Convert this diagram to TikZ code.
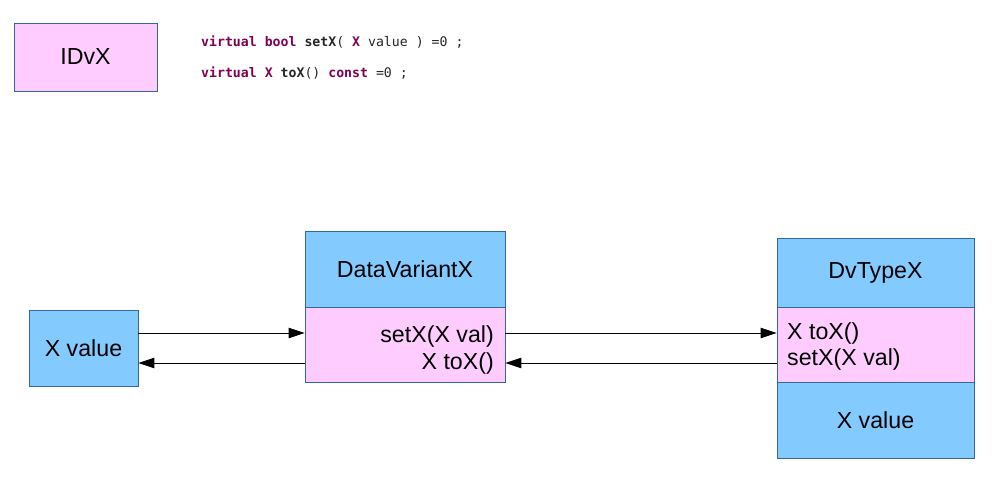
\documentclass[tikz,border=0pt]{standalone}
\usepackage{fontspec}
\setmainfont{Liberation Sans}
\newfontfamily\codefont{DejaVu Sans Mono}
\usetikzlibrary{arrows.meta,calc}
\definecolor{boxblue}{HTML}{83CAFF}
\definecolor{boxpink}{HTML}{FFCCFF}
\definecolor{edge}{HTML}{3465A4}
\definecolor{kw}{HTML}{7F0055}
\tikzset{
  box/.style={draw=edge, line width=0.9pt, inner sep=0pt, minimum width=#1},
  bluebox/.style={box=#1, fill=boxblue},
  pinkbox/.style={box=#1, fill=boxpink},
  lbl/.style={font=\fontsize{23.2}{28}\selectfont, inner sep=0pt, text=black},
  code/.style={font=\codefont\fontsize{13.2}{15}\selectfont, inner sep=0pt, anchor=base west, text=black!85},
  arr/.style={line width=1pt, -{Triangle[length=16pt,width=10.5pt]}}
}
\newcommand{\kwd}[1]{\textcolor{kw}{\textbf{#1}}}
\begin{document}
\begin{tikzpicture}[x=1pt,y=-1pt]
\useasboundingbox[fill=white] (0,0) rectangle (1001,485);
% IDvX
\node[pinkbox=143pt, minimum height=68pt] (idvx) at (85.5,57) {};
\node[lbl] (idvxt) at (idvx.center) {IDvX};
% code
\node[code] (c1) at (201,46.5) {\kwd{virtual} \kwd{bool} \textbf{setX}( \textcolor{kw}{\textbf{X}} value ) =0 ;};
\node[code] (c2) at (201,77.5) {\kwd{virtual} \textcolor{kw}{\textbf{X}} \textbf{toX}() \kwd{const} =0 ;};
% X value
\node[bluebox=109pt, minimum height=76pt] (xval) at (83.5,348) {};
\node[lbl] (xvalt) at (xval.center) {X value};
% DataVariantX
\node[bluebox=200pt, minimum height=76pt] (dvtop) at (405,269) {};
\node[pinkbox=200pt, minimum height=75pt] (dvbot) at (405,344.5) {};
\node[lbl] (dvtopt) at (dvtop.center) {DataVariantX};
\node[lbl, anchor=base east] (dvb1) at (494,342) {setX(X val)};
\node[lbl, anchor=base east] (dvb2) at (494,369) {X toX()};
% DvTypeX
\node[bluebox=197pt, minimum height=69pt] (tytop) at (875.5,272.5) {};
\node[pinkbox=197pt, minimum height=75pt] (tymid) at (875.5,344.5) {};
\node[bluebox=197pt, minimum height=76pt] (tybot) at (875.5,420) {};
\node[lbl] (tytopt) at (tytop.center) {DvTypeX};
\node[lbl, anchor=base west] (tym1) at (787,339) {X toX()};
\node[lbl, anchor=base west] (tym2) at (787,365.5) {setX(X val)};
\node[lbl] (tybott) at (tybot.center) {X value};
% arrows
\draw[arr] ([yshift=15pt]xval.east) -- ([yshift=15pt]xval.east -| dvbot.west);
\draw[arr] ([yshift=-15pt]xval.east -| dvbot.west) -- ([yshift=-15pt]xval.east);
\draw[arr] ([yshift=15pt]xval.east -| dvbot.east) -- ([yshift=15pt]xval.east -| tymid.west);
\draw[arr] ([yshift=-15pt]xval.east -| tymid.west) -- ([yshift=-15pt]xval.east -| dvbot.east);
\end{tikzpicture}
\end{document}
